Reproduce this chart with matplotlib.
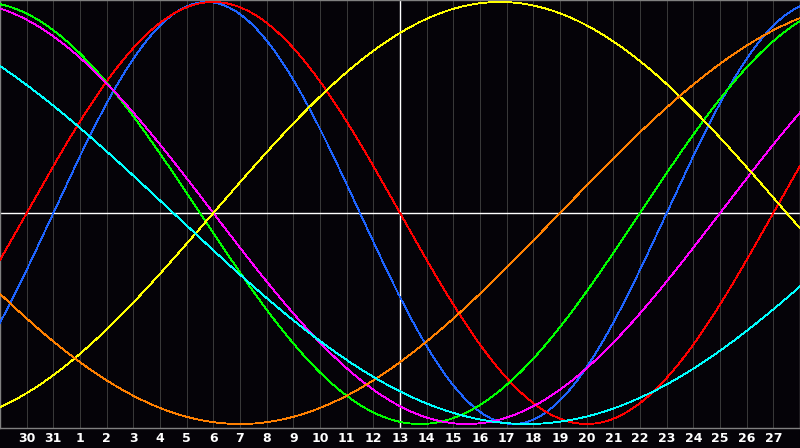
import matplotlib
matplotlib.use('Agg')
import matplotlib.pyplot as plt
import numpy as np

# biorhythm cycles: length in days and position in the cycle at the left edge
cycle_names = ['physical', 'emotional', 'intellectual', 'intuitive', 'aesthetic', 'awareness', 'spiritual']
cycle_periods = [23, 28, 33, 38, 43, 48, 53]
cycle_phase_at_start = [21, 27, 9, 11, 35, 27, 20]
cycle_colors = ['#1e64ff', '#ff0000', '#00ff00', '#ff00ff', '#ffff00', '#ff8000', '#00ffff']

day_labels = ['30', '31'] + [str(d) for d in range(1, 28)]
today_index = 15  # day 13

n_days = len(day_labels) + 1

fig = plt.figure(figsize=(8, 4.48), dpi=100)
fig.patch.set_facecolor('#050308')
ax = fig.add_axes([0, 20 / 448, 1, 428 / 448])
ax.set_facecolor('#050308')

amp_px = 211.0
ax.set_xlim(0, n_days)
ax.set_ylim(-(428 - 213) / amp_px, 213 / amp_px)

# day grid
for k in range(1, n_days + 1):
    ax.axvline(k, color='#3a3a3a', lw=0.7, zorder=1)

t = np.linspace(0, n_days, 1600)
for period, phase, color in zip(cycle_periods, cycle_phase_at_start, cycle_colors):
    y = np.sin(2 * np.pi * (phase + t) / period)
    ax.plot(t, y, color=color, lw=0.6, antialiased=False, zorder=3)

ax.axhline(0, color='white', lw=1.0, zorder=2)
ax.axvline(today_index, color='white', lw=1.0, zorder=2)

for side in ['left', 'top', 'bottom', 'right']:
    ax.spines[side].set_color('#808080')
    ax.spines[side].set_linewidth(1.0)

ax.set_yticks([])
ax.set_xticks(range(1, n_days))
ax.set_xticklabels(day_labels, color='white', fontsize=9, fontweight='bold', family='DejaVu Sans')
ax.tick_params(axis='x', length=0, pad=3)

fig.savefig('out.png', dpi=100, facecolor=fig.get_facecolor())
